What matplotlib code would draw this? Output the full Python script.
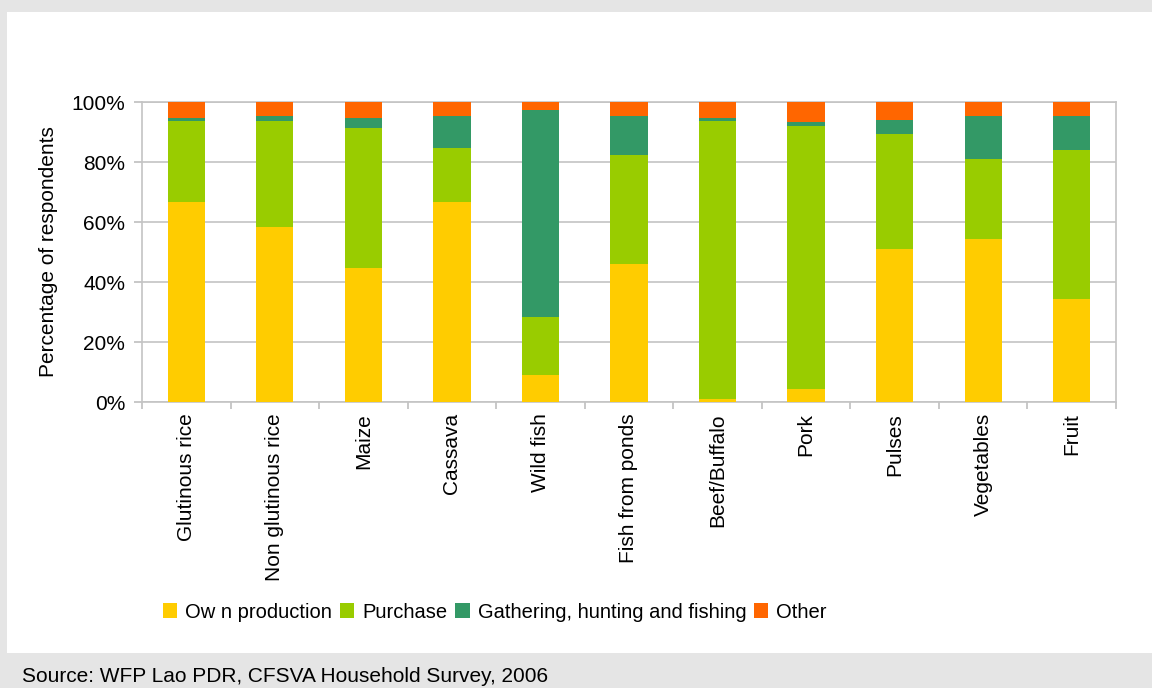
import numpy as np
import matplotlib.pyplot as plt
from matplotlib.patches import Rectangle

plt.rcParams['font.family'] = ['Liberation Sans', 'DejaVu Sans']

foods = ['Glutinous rice', 'Non glutinous rice', 'Maize', 'Cassava', 'Wild fish',
         'Fish from ponds', 'Beef/Buffalo', 'Pork', 'Pulses', 'Vegetables', 'Fruit']

# share of respondents by source, in percent
own_production = [66.6, 58.2, 44.6, 66.6, 8.9, 45.9, 0.9, 4.2, 50.9, 54.2, 34.2]
purchase       = [27.0, 35.4, 46.6, 18.0, 19.3, 36.3, 92.7, 87.7, 38.3, 26.7, 49.7]
gathering      = [1.0, 1.7, 3.4, 10.7, 69.0, 13.1, 1.0, 1.3, 4.7, 14.3, 11.3]
other          = [5.4, 4.7, 5.4, 4.7, 2.8, 4.7, 5.4, 6.8, 6.1, 4.8, 4.8]

series = [('Ow n production', own_production, '#FFCC00'),
          ('Purchase', purchase, '#99CC00'),
          ('Gathering, hunting and fishing', gathering, '#339966'),
          ('Other', other, '#FF6600')]

fs = 15

fig = plt.figure(figsize=(11.52, 6.88), dpi=100, facecolor='#e5e5e5')
fig.patches.append(Rectangle((7 / 1152, 35 / 688), 1 - 7 / 1152, 641 / 688,
                             transform=fig.transFigure, facecolor='white',
                             edgecolor='none', zorder=-10))

ax = fig.add_axes([142 / 1152, 1 - 402 / 688, (1116 - 142) / 1152, 300 / 688])
ax.set_zorder(1)
ax.set_facecolor('white')

x = np.arange(len(foods))
bottom = np.zeros(len(foods))
handles = []
for name, vals, col in series:
    vals = np.array(vals)
    b = ax.bar(x, vals, 0.42, bottom=bottom, color=col, label=name, zorder=3)
    bottom += vals
    handles.append(b)

ax.set_xlim(-0.5, len(foods) - 0.5)
ax.set_ylim(0, 100)
ax.set_yticks(np.arange(0, 101, 20))
ax.set_yticklabels([f'{v}%' for v in range(0, 101, 20)], fontsize=fs)
ax.set_xticks(x)
ax.set_xticklabels(foods, rotation=90, fontsize=fs, va='top')
ax.set_xticks(np.arange(-0.5, len(foods), 1), minor=True)
ax.tick_params(axis='x', which='major', length=0, pad=8)
ax.tick_params(axis='x', which='minor', length=5, color='#bfbfbf', width=1.2)
ax.tick_params(axis='y', length=6, color='#bfbfbf', width=1.2, pad=6)
ax.yaxis.grid(True, color='#c4c4c4', linewidth=1.2, zorder=0)
for s in ax.spines.values():
    s.set_color('#c4c4c4')
    s.set_linewidth(1.2)

ax.set_ylabel('Percentage of respondents', fontsize=fs, labelpad=10)

fig.legend(handles=handles, loc='center left', bbox_to_anchor=(155 / 1152, 1 - 612 / 688),
           ncol=4, frameon=False, fontsize=14.5, handlelength=0.7, handleheight=0.7,
           handletextpad=0.4, columnspacing=0.4, borderaxespad=0)

fig.text(22 / 1152, 1 - 676 / 688, 'Source: WFP Lao PDR, CFSVA Household Survey, 2006',
         fontsize=fs, va='center', ha='left')

fig.savefig('out.png', dpi=100, facecolor=fig.get_facecolor())
